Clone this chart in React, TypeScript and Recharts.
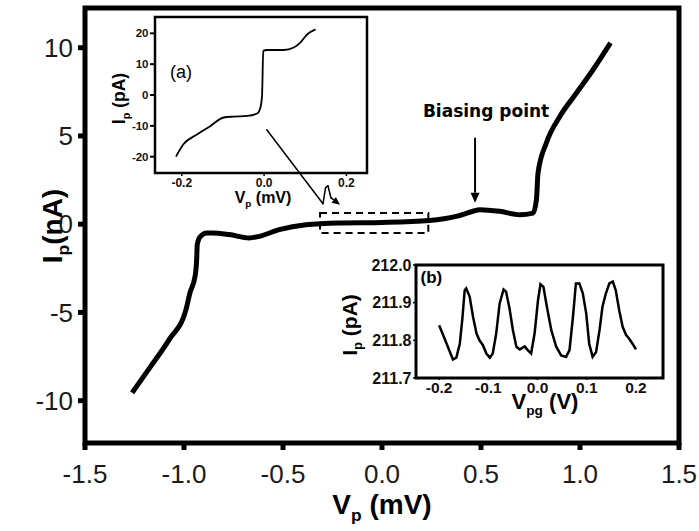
import { LineChart, Line, XAxis, YAxis, ReferenceArea, ReferenceLine } from 'recharts'

// main I-V curve (Vp in mV, Ip in nA)
const mainV = [
  -1.262, -1.168, -1.075, -0.99, -0.97, -0.944, -0.936, -0.933, -0.919, -0.885,
  -0.856, -0.772, -0.67, -0.62, -0.519, -0.384, -0.215, 0.0, 0.24, 0.375,
  0.459, 0.493, 0.594, 0.695, 0.763, 0.78, 0.788, 0.83, 0.898, 0.982, 1.066, 1.154,
]
const mainI = [
  -9.55, -8.06, -6.54, -4.84, -3.89, -2.95, -2.0, -1.16, -0.72, -0.5,
  -0.5, -0.59, -0.78, -0.69, -0.31, -0.03, 0.07, 0.1, 0.21, 0.44,
  0.73, 0.82, 0.73, 0.54, 0.63, 1.39, 2.9, 4.6, 6.1, 7.43, 8.75, 10.27,
]
const mainXTicks = [-1.5, -1.0, -0.5, 0.0, 0.5, 1.0, 1.5]
const mainYTicks = [-10, -5, 0, 5, 10]

// inset (a): zoom of the dashed region (pA)
const aV = [
  -0.214, -0.196, -0.163, -0.131, -0.098, -0.074, -0.041, -0.017, -0.009,
  -0.005, -0.002, 0.007, 0.048, 0.072, 0.088, 0.105, 0.125,
]
const aI = [
  -20.0, -16.0, -12.8, -10.1, -7.3, -7.0, -6.8, -6.0, -4.1,
  -0.3, 14.3, 14.6, 14.6, 15.4, 17.0, 19.7, 21.3,
]
const aXTicks = [-0.2, 0.0, 0.2]
const aYTicks = [-20, -10, 0, 10, 20]

// inset (b): current vs gate voltage at the biasing point
const bV = [
  -0.2, -0.189, -0.178, -0.172, -0.165, -0.158, -0.153, -0.148, -0.145, -0.138,
  -0.131, -0.124, -0.118, -0.111, -0.104, -0.097, -0.091, -0.084, -0.077, -0.069,
  -0.064, -0.057, -0.05, -0.043, -0.036, -0.026, -0.02, -0.013, -0.006, 0.001,
  0.006, 0.012, 0.019, 0.028, 0.038, 0.048, 0.058, 0.065, 0.072, 0.078,
  0.085, 0.092, 0.099, 0.105, 0.112, 0.119, 0.126, 0.132, 0.139, 0.146,
  0.153, 0.159, 0.166, 0.173, 0.18, 0.186, 0.193, 0.2,
]
const bI = [
  211.84, 211.805, 211.769, 211.749, 211.754, 211.791, 211.854, 211.933, 211.938, 211.916,
  211.862, 211.818, 211.8, 211.787, 211.765, 211.754, 211.765, 211.818, 211.898, 211.935,
  211.929, 211.885, 211.827, 211.783, 211.776, 211.784, 211.774, 211.765, 211.818, 211.907,
  211.949, 211.942, 211.889, 211.827, 211.783, 211.76, 211.756, 211.774, 211.862, 211.951,
  211.951, 211.925, 211.871, 211.791, 211.756, 211.769, 211.827, 211.889, 211.925, 211.951,
  211.956, 211.933, 211.88, 211.836, 211.814, 211.805, 211.791, 211.776,
]
const bXTicks = [-0.2, -0.1, 0.0, 0.1, 0.2]
const bYTicks = [211.7, 211.8, 211.9, 212.0]

// annotation: arrow from inset (a) to the dashed box, with a small squiggle
const squiggle = [
  { x: -0.582, y: 5.35 },
  { x: -0.298, y: 1.16 },
  { x: -0.285, y: 2.07 },
  { x: -0.273, y: 2.18 },
  { x: -0.258, y: 1.5 },
  { x: -0.212, y: 1.1 },
]

const mainData = mainV.map((v, i) => ({ v, i: mainI[i] }))
const aData = aV.map((v, i) => ({ v, i: aI[i] }))
const bData = bV.map((v, i) => ({ v, i: bI[i] }))

const sans = '"Liberation Sans", Arial, Helvetica, sans-serif'
const fmt1 = (v: number) => v.toFixed(1)

const subLabel = (
  main: string, sub: string, rest: string,
  x: number, y: number, size: number, rotate: boolean,
) => () => (
  <text
    x={x} y={y} textAnchor="middle" fontSize={size} fontWeight="bold"
    fontFamily={sans} fill="#000"
    transform={rotate ? `rotate(-90 ${x} ${y})` : undefined}
  >
    {main}
    <tspan fontSize={size * 0.62} dy={size * 0.26}>{sub}</tspan>
    <tspan dy={-size * 0.26}>{rest}</tspan>
  </text>
)

function arrowHead(x1: number, y1: number, x2: number, y2: number, len: number, half: number, w: number) {
  const a = Math.atan2(y2 - y1, x2 - x1)
  const bx = x2 - len * Math.cos(a)
  const by = y2 - len * Math.sin(a)
  const px = -Math.sin(a) * half
  const py = Math.cos(a) * half
  return (
    <g>
      <line x1={x1} y1={y1} x2={bx} y2={by} stroke="#000" strokeWidth={w} />
      <polygon points={`${x2},${y2} ${bx + px},${by + py} ${bx - px},${by - py}`} fill="#000" />
    </g>
  )
}

const thinShape = (p: any) => (
  <line x1={p.x1} y1={p.y1} x2={p.x2} y2={p.y2} stroke="#000" strokeWidth={1.5} strokeLinecap="round" />
)
const thinArrow = (p: any) => arrowHead(p.x1, p.y1, p.x2, p.y2, 8, 3.5, 1.5)
const biasArrow = (p: any) => (
  <g>
    {arrowHead(p.x1, p.y1, p.x2, p.y2, 10, 4.5, 2)}
    <text
      x={p.x1 + 11} y={p.y1 - 21} textAnchor="middle" fontSize={17}
      fontWeight="bold" fontFamily='"DejaVu Sans", Verdana, sans-serif' fill="#000"
    >
      Biasing point
    </text>
  </g>
)

export default function App() {
  return (
    <div style={{ position: 'relative', width: 699, height: 531, background: '#fff' }}>
      <style>{'body{margin:0}'}</style>

      <LineChart width={699} height={531} data={mainData} margin={{ top: 8, right: 20, left: 0, bottom: 0 }}>
        <XAxis
          type="number" dataKey="v" domain={[-1.5, 1.5]} ticks={mainXTicks} allowDataOverflow
          tickFormatter={fmt1} axisLine={false} height={88}
          tickLine={{ stroke: '#000', strokeWidth: 5 }} tickSize={7} tickMargin={15}
          tick={{ fontSize: 26, fill: '#1a1a1a', fontFamily: sans }}
          label={subLabel('V', 'p', ' (mV)', 382, 514, 28, false)}
        />
        <YAxis
          type="number" domain={[-12.4, 12.25]} ticks={mainYTicks} allowDataOverflow
          axisLine={false} width={85}
          tickLine={{ stroke: '#000', strokeWidth: 5 }} tickSize={7} tickMargin={5}
          tick={{ fontSize: 26, fill: '#1a1a1a', fontFamily: sans }}
          label={subLabel('I', 'p', '(nA)', 62, 226, 28, true)}
        />
        <ReferenceArea
          x1={-1.5} x2={1.5} y1={-12.4} y2={12.25} ifOverflow="visible"
          fill="none" stroke="#000" strokeWidth={5}
        />
        <ReferenceArea
          x1={-0.313} x2={0.234} y1={-0.5} y2={0.63} ifOverflow="visible"
          fill="none" stroke="#000" strokeWidth={2} strokeDasharray="7 5"
        />
        {squiggle.slice(0, -2).map((p, k) => (
          <ReferenceLine key={k} segment={[p, squiggle[k + 1]]} shape={thinShape} ifOverflow="visible" />
        ))}
        <ReferenceLine
          segment={[squiggle[squiggle.length - 2], squiggle[squiggle.length - 1]]}
          shape={thinArrow} ifOverflow="visible"
        />
        <ReferenceLine segment={[{ x: 0.47, y: 4.9 }, { x: 0.47, y: 1.22 }]} shape={biasArrow} ifOverflow="visible" />
        <Line type="monotone" dataKey="i" stroke="#000" strokeWidth={5} dot={false} isAnimationActive={false} />
      </LineChart>

      <div style={{ position: 'absolute', left: 100, top: 0 }}>
        <LineChart width={290} height={215} data={aData} margin={{ top: 17, right: 23, left: 0, bottom: 0 }}>
          <XAxis
            type="number" dataKey="v" domain={[-0.265, 0.25]} ticks={aXTicks} allowDataOverflow
            tickFormatter={fmt1} axisLine={false} height={42}
            tickLine={{ stroke: '#000', strokeWidth: 1.5 }} tickSize={3} tickMargin={2.5}
            tick={{ fontSize: 12, fontWeight: 'bold', fill: '#111', fontFamily: sans }}
            label={subLabel('V', 'p', ' (mV)', 163, 203, 16, false)}
          />
          <YAxis
            type="number" domain={[-25.3, 25.3]} ticks={aYTicks} allowDataOverflow
            axisLine={false} width={55}
            tickLine={{ stroke: '#000', strokeWidth: 2 }} tickSize={5} tickMargin={1.5}
            tick={{ fontSize: 11.5, fontWeight: 'bold', fill: '#111', fontFamily: sans }}
            label={subLabel('I', 'p', ' (pA)', 25, 98.5, 17.5, true)}
          />
          <ReferenceArea
            x1={-0.265} x2={0.25} y1={-25.3} y2={25.3} ifOverflow="visible"
            fill="none" stroke="#000" strokeWidth={2.5}
            label={(p: any) => (
              <text x={p.viewBox.x + 15} y={p.viewBox.y + 61} fontSize={18} fontFamily={sans} fill="#000">(a)</text>
            )}
          />
          <Line type="monotone" dataKey="i" stroke="#000" strokeWidth={1.8} dot={false} isAnimationActive={false} />
        </LineChart>
      </div>

      <div style={{ position: 'absolute', left: 325, top: 240 }}>
        <LineChart width={355} height={190} data={bData} margin={{ top: 25, right: 17, left: 0, bottom: 0 }}>
          <XAxis
            type="number" dataKey="v" domain={[-0.247, 0.255]} ticks={bXTicks} allowDataOverflow
            tickFormatter={fmt1} axisLine={false} height={52}
            tickLine={{ stroke: '#000', strokeWidth: 1.5 }} tickSize={2} tickMargin={2}
            tick={{ fontSize: 15.5, fontWeight: 'bold', fill: '#111', fontFamily: sans }}
            label={subLabel('V', 'pg', ' (V)', 220, 169, 22, false)}
          />
          <YAxis
            type="number" domain={[211.7, 212.0]} ticks={bYTicks} allowDataOverflow
            tickFormatter={fmt1} axisLine={false} width={91}
            tickLine={{ stroke: '#000', strokeWidth: 1.5 }} tickSize={3} tickMargin={1.5}
            tick={{ fontSize: 16, fontWeight: 'bold', fill: '#111', fontFamily: sans }}
            label={subLabel('I', 'p', ' (pA)', 32, 85, 21, true)}
          />
          <ReferenceArea
            x1={-0.247} x2={0.255} y1={211.7} y2={212.0} ifOverflow="visible"
            fill="none" stroke="#000" strokeWidth={3}
            label={(p: any) => (
              <text x={p.viewBox.x + 4.5} y={p.viewBox.y + 18} fontSize={17} fontWeight="bold" fontFamily={sans} fill="#000">(b)</text>
            )}
          />
          <Line type="linear" dataKey="i" stroke="#000" strokeWidth={2.5} dot={false} isAnimationActive={false} />
        </LineChart>
      </div>
    </div>
  )
}
